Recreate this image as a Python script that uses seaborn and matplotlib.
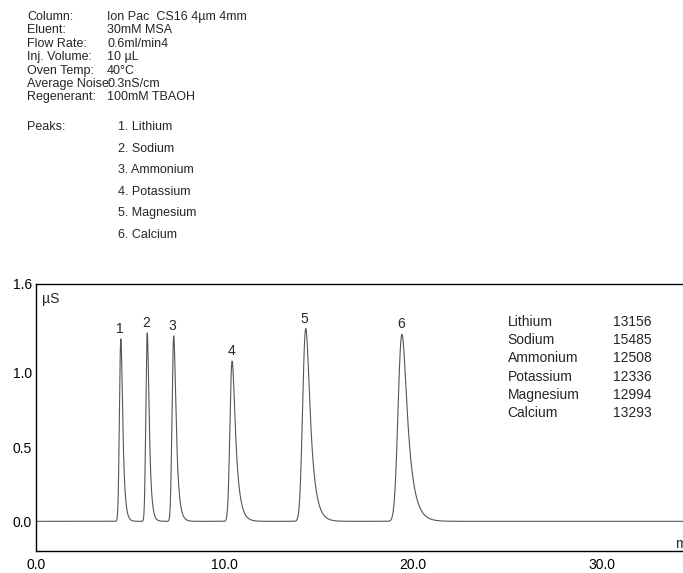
import numpy as np
import matplotlib.pyplot as plt
import seaborn as sns
import pandas as pd

sns.set_style("white")
plt.rcParams['font.family'] = ['Liberation Sans', 'DejaVu Sans']

# peaks
peak_nums = ["1", "2", "3", "4", "5", "6"]
peak_rt = [4.5, 5.9, 7.3, 10.4, 14.3, 19.4]
peak_h = [1.23, 1.27, 1.25, 1.08, 1.30, 1.26]
peak_sigma = [0.06, 0.06, 0.07, 0.09, 0.13, 0.16]
peak_tail = [0.10, 0.10, 0.13, 0.20, 0.25, 0.32]

names = ["Lithium", "Sodium", "Ammonium", "Potassium", "Magnesium", "Calcium"]
plates = ["13156", "15485", "12508", "12336", "12994", "13293"]

cond_labels = ["Column:", "Eluent:", "Flow Rate:", "Inj. Volume:", "Oven Temp:", "Average Noise:", "Regenerant:"]
cond_values = ["Ion Pac  CS16 4µm 4mm", "30mM MSA", "0.6ml/min4", "10 µL", "40°C", "0.3nS/cm", "100mM TBAOH"]

# build trace: gaussian convolved with exponential tail, apex kept at rt
dt = 0.005
t = np.arange(0, 34.5, dt)
sig = np.zeros_like(t)
for rt, h, s, tau in zip(peak_rt, peak_h, peak_sigma, peak_tail):
    g = np.exp(-0.5 * ((t - rt) / s) ** 2)
    k = np.exp(-np.arange(0, 10 * tau, dt) / tau)
    shape = np.convolve(g, k)[:len(t)]
    shift = np.argmax(shape) - np.argmax(g)
    shape = np.roll(shape, -shift)
    shape = shape / shape.max()
    sig += h * shape
df = pd.DataFrame({"t": t, "y": sig})

fig = plt.figure(figsize=(6.83, 5.73), dpi=100)
ax = fig.add_axes([0.0527, 0.0384, 0.9473, 0.4660])
sns.lineplot(data=df, x="t", y="y", ax=ax, color="#555555", linewidth=0.8)
ax.set_xlim(0, 34.3)
ax.set_ylim(-0.2, 1.6)
ax.set_xticks([0, 10, 20, 30])
ax.set_xticklabels(["0.0", "10.0", "20.0", "30.0"])
ax.set_yticks([0.0, 0.5, 1.0, 1.6])
ax.set_yticklabels(["0.0", "0.5", "1.0", "1.6"])
ax.tick_params(axis="both", direction="out", length=3, width=0.8, labelsize=10, colors="black", pad=2)
ax.tick_params(axis="y", pad=0)
ax.set_xlabel("")
ax.set_ylabel("")
ax.spines["right"].set_visible(False)
for s in ["left", "top", "bottom"]:
    ax.spines[s].set_color("black")
    ax.spines[s].set_linewidth(1.0)
ax.text(0.3, 1.5, "µS", fontsize=10, va="center")
ax.text(33.9, -0.15, "mi", fontsize=10, va="center", clip_on=True)
for n, rt, h in zip(peak_nums, peak_rt, peak_h):
    ax.text(rt - 0.05, h + 0.02, n, fontsize=10, ha="center", va="bottom")
for i, (nm, pl) in enumerate(zip(names, plates)):
    y = 1.344 - i * 0.123
    ax.text(25.0, y, nm, fontsize=10, va="center")
    ax.text(30.6, y, pl, fontsize=10, va="center")

for i, (lab, val) in enumerate(zip(cond_labels, cond_values)):
    y = 1 - (17 + i * 13.4) / 573
    fig.text(27 / 683, y, lab, fontsize=9, va="center")
    fig.text(107 / 683, y, val, fontsize=9, va="center")
peaks_lines = [f"{n}. {nm}" for n, nm in zip(peak_nums, names)]
fig.text(27 / 683, 1 - 127 / 573, "Peaks:", fontsize=9, va="center")
for i, s in enumerate(peaks_lines):
    fig.text(118 / 683, 1 - (127 + i * 21.6) / 573, s, fontsize=9, va="center")

fig.savefig("out.png", dpi=100)
